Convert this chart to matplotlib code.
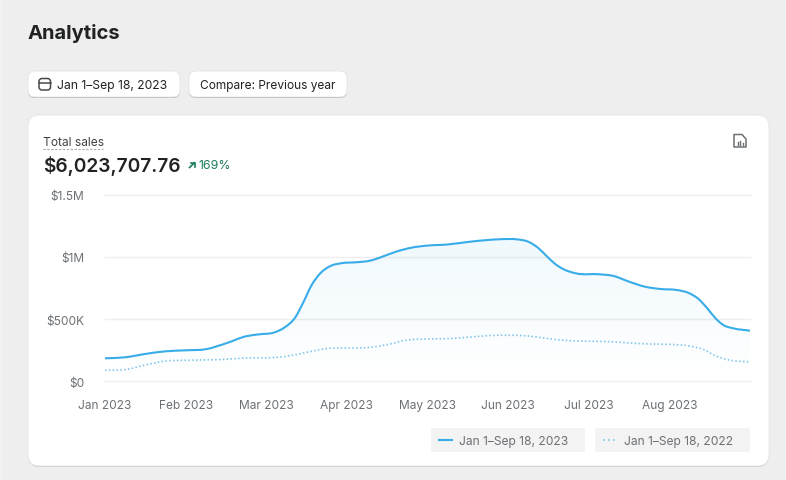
import numpy as np
import matplotlib
matplotlib.use("Agg")
import matplotlib.pyplot as plt
from matplotlib.patches import FancyBboxPatch, PathPatch, Rectangle
from matplotlib.path import Path
from matplotlib.colors import ListedColormap

# x positions are in months since Jan 2023, values are dollars
month_labels = ["Jan 2023", "Feb 2023", "Mar 2023", "Apr 2023", "May 2023", "Jun 2023", "Jul 2023", "Aug 2023"]
y_ticks = [0, 500000, 1000000, 1500000]
y_labels = ["$0", "$500K", "$1M", "$1.5M"]

months_now = [0, 0.25, 0.5, 0.75, 1, 1.25, 1.5, 1.75, 1.92, 2.09, 2.23, 2.36, 2.46, 2.56, 2.67, 2.79, 2.94, 3.12,
              3.29, 3.4, 3.6, 3.8, 4, 4.25, 4.5, 4.75, 4.9, 5.11, 5.25, 5.38, 5.48, 5.58, 5.69, 5.84, 6.14, 6.3,
              6.5, 6.7, 6.89, 7.09, 7.24, 7.36, 7.47, 7.57, 7.67, 7.8, 8]
sales_2023 = [185, 193, 220, 241, 249, 258, 305, 362, 378, 391, 434, 514, 635, 770, 868, 925, 950, 957,
              970, 992, 1040, 1074, 1091, 1100, 1120, 1136, 1142, 1141, 1122, 1068, 1005, 945, 900, 868, 860, 848,
              801, 760, 742, 734, 710, 662, 587, 508, 452, 425, 407]
sales_2023 = [v * 1000 for v in sales_2023]

months_prev = [0, 0.25, 0.5, 0.75, 1, 1.25, 1.5, 1.75, 2, 2.25, 2.5, 2.75, 3, 3.25, 3.5, 3.75,
               4, 4.25, 4.5, 4.75, 5, 5.25, 5.5, 5.75, 6, 6.25, 6.5, 6.75, 7, 7.25, 7.43, 7.57, 7.72, 8]
sales_2022 = [88, 94, 131, 163, 169, 172, 177, 188, 188, 201, 233, 263, 268, 271, 295, 332,
              340, 343, 354, 367, 370, 364, 343, 327, 322, 319, 308, 300, 297, 283, 254, 206, 174, 155]
sales_2022 = [v * 1000 for v in sales_2022]

legend_now = "Jan 1–Sep 18, 2023"
legend_prev = "Jan 1–Sep 18, 2022"

W, H = 786, 481
BLUE = "#38ace8"
LIGHT_BLUE = "#7cc5ee"
TEXT = "#202223"
MUTED = "#6d7175"

plt.rcParams["font.family"] = ["Inter", "DejaVu Sans"]


def smooth_path(xs, ys, close_to=None):
    # cubic hermite through the points, written out as bezier segments
    xs = np.asarray(xs, float)
    ys = np.asarray(ys, float)
    slopes = np.gradient(ys, xs, edge_order=1)
    verts = [(xs[0], ys[0])]
    codes = [Path.MOVETO]
    for i in range(len(xs) - 1):
        dx = xs[i + 1] - xs[i]
        verts.append((xs[i] + dx / 3, ys[i] + slopes[i] * dx / 3))
        verts.append((xs[i + 1] - dx / 3, ys[i + 1] - slopes[i + 1] * dx / 3))
        verts.append((xs[i + 1], ys[i + 1]))
        codes += [Path.CURVE4] * 3
    if close_to is not None:
        verts += [(xs[-1], close_to), (xs[0], close_to), (xs[0], ys[0])]
        codes += [Path.LINETO, Path.LINETO, Path.CLOSEPOLY]
    return Path(verts, codes)


def box(ax, x0, y0, x1, y1, radius, **kw):
    p = FancyBboxPatch((x0 + radius, y0 + radius), x1 - x0 - 2 * radius, y1 - y0 - 2 * radius,
                       boxstyle="round,pad=%f,rounding_size=%f" % (radius, radius), **kw)
    ax.add_patch(p)
    return p


fig = plt.figure(figsize=(W / 100, H / 100), dpi=100, facecolor="#eeeeee")

# page layer in pixel coordinates, y pointing down
ui = fig.add_axes([0, 0, 1, 1])
ui.set_xlim(0, W)
ui.set_ylim(H, 0)
ui.axis("off")

ui.add_patch(Rectangle((0, 0), 3, H, fc="#f1f1f1", ec="none"))
ui.text(27.5, 33.5, "Analytics", fontsize=14.5, fontweight="bold", color=TEXT, va="center")

# date and compare buttons
for x0, x1 in [(28, 180), (189, 347)]:
    box(ui, x0, 73, x1, 99, 7, fc="#b5b5b5", ec="none")
    box(ui, x0, 72, x1, 98, 7, fc="white", ec="#e3e3e3", lw=0.6)
box(ui, 39, 79.5, 50.5, 91, 3, fc="none", ec="#4a4a4a", lw=1.1)
ui.plot([39, 50.5], [83.5, 83.5], color="#4a4a4a", lw=1.1)
ui.text(57, 86, "Jan 1–Sep 18, 2023", fontsize=8.75, color=TEXT, va="center")
ui.text(199.5, 86, "Compare: Previous year", fontsize=8.55, color=TEXT, va="center")

# card
box(ui, 28, 117, 769, 468, 12, fc="#c9c9c9", ec="none")
box(ui, 28, 116, 769, 467, 12, fc="white", ec="#e6e6e6", lw=0.6)

ui.text(43, 143, "Total sales", fontsize=8.6, color="#3f4245", va="center")
ui.plot([43, 103], [149.5, 149.5], color="#a8a8a8", lw=0.8, ls=(0, (2, 1.5)))
ui.text(43, 166.5, "$6,023,707.76", fontsize=13.8, fontweight="semibold", color=TEXT, va="center")

# growth arrow and percentage
GREEN = "#1c7d5b"
ui.plot([189.5, 194.5], [168.5, 163.8], color=GREEN, lw=1.2)
ui.plot([191, 194.8, 194.8], [163.8, 163.8, 167.5], color=GREEN, lw=1.2)
ui.text(198, 166, "169%", fontsize=8.9, color=GREEN, va="center")

# export icon, a page with a folded corner and small bars
doc = Path([(734, 137), (734, 148), (746, 148), (746, 140), (742, 135.5), (734, 135.5), (734, 137)],
           [Path.MOVETO] + [Path.LINETO] * 5 + [Path.CLOSEPOLY])
ui.add_patch(PathPatch(doc, fc="none", ec="#6d7175", lw=1.1, joinstyle="round"))
for bx, top in [(737.5, 143), (740, 141.5), (742.5, 144)]:
    ui.plot([bx, bx], [top, 146], color="#6d7175", lw=1)

# legend chips
for x0, x1 in [(431, 585), (595, 750)]:
    box(ui, x0, 429, x1, 453, 2, fc="#f3f3f3", ec="none")
ui.plot([439, 452], [441, 441], color=BLUE, lw=1.5)
ui.plot([603, 616], [441, 441], color=LIGHT_BLUE, lw=1.2, ls=(0, (1, 2)))
ui.text(459, 442, legend_now, fontsize=8.7, color=MUTED, va="center")
ui.text(624, 442, legend_prev, fontsize=8.7, color=MUTED, va="center")

# chart, placed so the plot area covers the gridline extents
left, right, top, bottom = 105, 750, 195.7, 382.3
ax = fig.add_axes([left / W, 1 - bottom / H, (right - left) / W, (bottom - top) / H])
ax.patch.set_alpha(0)
ax.set_xlim(0, 8)
ax.set_ylim(0, 1500000)
for s in ax.spines.values():
    s.set_visible(False)

ax.set_xticks(range(len(month_labels)))
ax.set_xticklabels(month_labels)
ax.set_yticks(y_ticks)
ax.set_yticklabels(y_labels)
ax.tick_params(axis="both", length=0, labelsize=8.6, labelcolor=MUTED)
ax.tick_params(axis="x", pad=13)
ax.tick_params(axis="y", pad=15)
ax.set_axisbelow(True)
ax.grid(axis="y", color="#eeeeee", lw=1.0)
for gl in ax.get_ygridlines():
    gl.set_clip_on(False)

# area under the current year, fading towards the baseline
fade = np.zeros((256, 4))
fade[:, :3] = matplotlib.colors.to_rgb(BLUE)
fade[:, 3] = np.linspace(0.0, 0.075, 256)
area = PathPatch(smooth_path(months_now, sales_2023, close_to=0), fc="none", ec="none")
ax.add_patch(area)
grad = ax.imshow(np.linspace(0, 1, 256).reshape(-1, 1), cmap=ListedColormap(fade), origin="lower",
                 extent=[0, 8, 0, 1150000], aspect="auto", zorder=1, vmin=0, vmax=1)
grad.set_clip_path(area)
ax.set_xlim(0, 8)
ax.set_ylim(0, 1500000)

ax.add_patch(PathPatch(smooth_path(months_prev, sales_2022), fc="none", ec=LIGHT_BLUE, lw=1.2,
                       ls=(0, (0.9, 1.4)), zorder=2, clip_on=False))
ax.add_patch(PathPatch(smooth_path(months_now, sales_2023), fc="none", ec=BLUE, lw=1.5,
                       zorder=3, clip_on=False))

fig.savefig("out.png", dpi=100, facecolor=fig.get_facecolor())
